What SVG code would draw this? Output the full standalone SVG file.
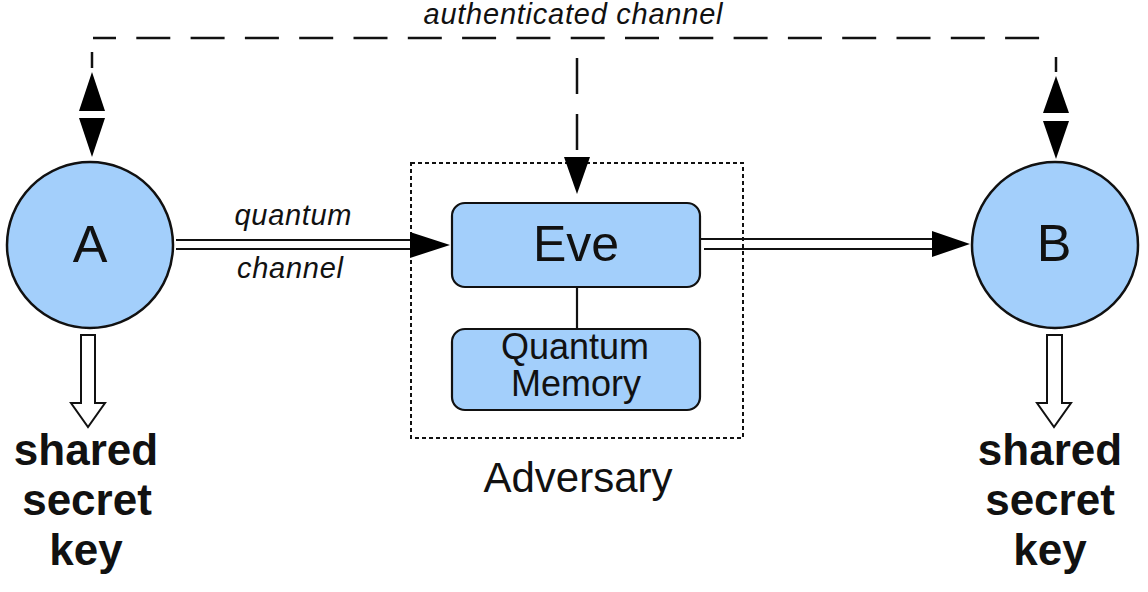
<svg xmlns="http://www.w3.org/2000/svg" width="1148" height="592" viewBox="0 0 1148 592">
<style>
.node{fill:#a3cffb;stroke:#111;stroke-width:2.5}
.box{fill:#a3cffb;stroke:#111;stroke-width:2.2}
.t{font-family:"Liberation Sans",Arial,sans-serif;fill:#111;text-anchor:middle}
.it{font-style:italic;font-size:29px}
.big{font-size:52px}
.key{font-weight:bold;font-size:44px}
.dash{fill:none;stroke:#111;stroke-width:2.5}
.line{fill:none;stroke:#111;stroke-width:2.2}
.head{fill:#000;stroke:none}
.hollow{fill:#fff;stroke:#111;stroke-width:2}
.dotted{fill:none;stroke:#111;stroke-width:2;stroke-dasharray:4 3}
</style>
<rect width="1148" height="592" fill="#fff"/>
<g id="adversary">
<rect x="411" y="163" width="332" height="275" class="dotted"/>
<text class="t" x="578" y="492" font-size="42">Adversary</text>
</g>
<g id="connectors">
<line x1="93" y1="38" x2="1045" y2="38" class="dash" stroke-dasharray="34 20.3" stroke-dashoffset="11"/>
<line x1="92" y1="52" x2="92" y2="68" class="dash"/>
<polygon class="head" points="92,72 79,111 105,111"/>
<polygon class="head" points="79,118 105,118 92,157"/>
<line x1="1056" y1="57" x2="1056" y2="72" class="dash"/>
<polygon class="head" points="1056,76 1043,113 1069,113"/>
<polygon class="head" points="1043,121 1069,121 1056,159"/>
<line x1="577" y1="58" x2="577" y2="157" class="dash" stroke-dasharray="36 20"/>
<polygon class="head" points="564,157 590,157 577,194"/>
<text class="t it" x="573" y="24" textLength="299" lengthAdjust="spacing">authenticated channel</text>
<line x1="176" y1="240" x2="412" y2="240" class="line"/>
<line x1="176" y1="249" x2="412" y2="249" class="line"/>
<polygon class="head" points="410,232 450,245 410,258"/>
<text class="t it" x="293" y="225" textLength="117" lengthAdjust="spacing">quantum</text>
<text class="t it" x="290" y="278" textLength="106" lengthAdjust="spacing">channel</text>
<line x1="701" y1="239" x2="934" y2="239" class="line"/>
<line x1="704" y1="249" x2="934" y2="249" class="line"/>
<polygon class="head" points="932,231 970,244 932,257"/>
<line x1="577" y1="287" x2="577" y2="329" class="line"/>
<polygon class="hollow" points="81,335 95,335 95,403 105,403 88,427 71,403 81,403"/>
<polygon class="hollow" points="1047,335 1062,335 1062,403 1071,403 1054,427 1037,403 1047,403"/>
</g>
<g id="nodeA">
<circle cx="90" cy="245" r="83" class="node"/>
<text class="t big" x="90" y="262">A</text>
</g>
<g id="nodeB">
<circle cx="1055" cy="245" r="83" class="node"/>
<text class="t big" x="1054" y="261">B</text>
</g>
<g id="eve">
<rect x="452" y="203" width="248" height="84" rx="13" class="box"/>
<text class="t" x="576" y="261" font-size="50">Eve</text>
</g>
<g id="memory">
<rect x="452" y="329" width="248" height="81" rx="13" class="box"/>
<text class="t" x="575" y="359" font-size="36">Quantum</text>
<text class="t" x="576" y="396" font-size="36">Memory</text>
</g>
<g id="keyA">
<text class="t key" x="86" y="465">shared</text>
<text class="t key" x="87" y="515">secret</text>
<text class="t key" x="86" y="565">key</text>
</g>
<g id="keyB">
<text class="t key" x="1050" y="465">shared</text>
<text class="t key" x="1050" y="515">secret</text>
<text class="t key" x="1050" y="565">key</text>
</g>
</svg>
